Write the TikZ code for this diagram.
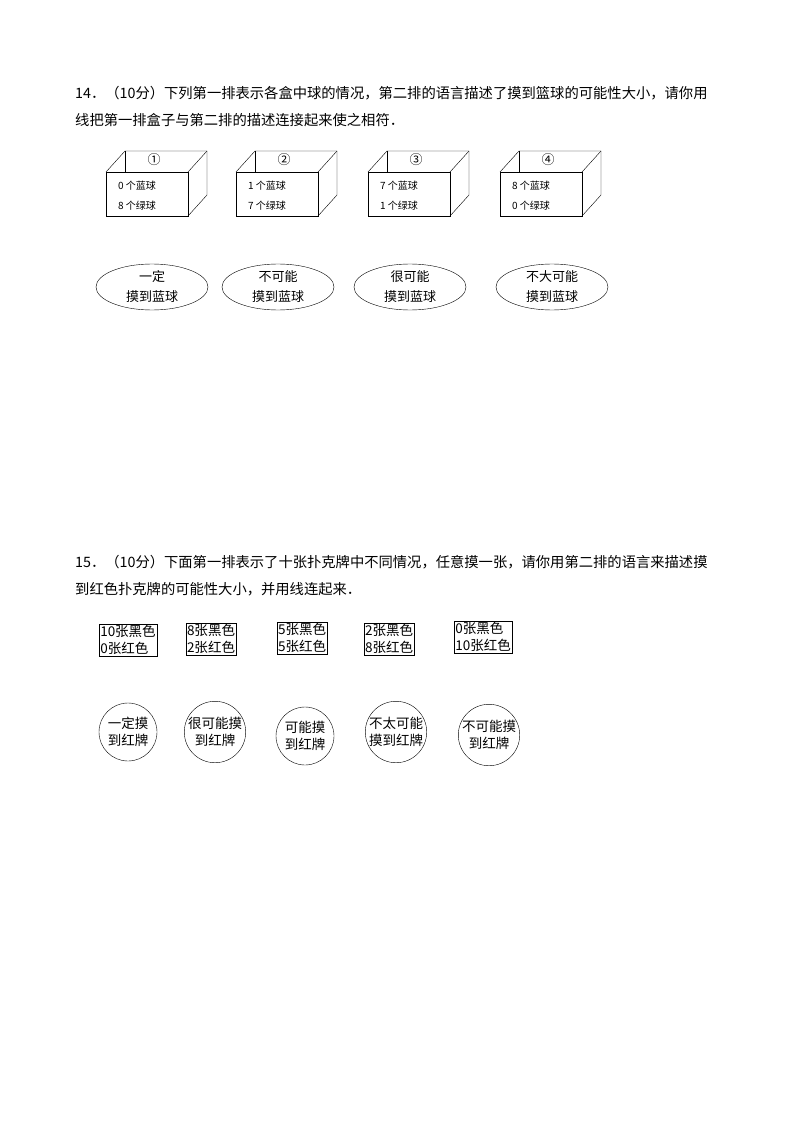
\documentclass[tikz,border=0pt]{standalone}
\usepackage{fontspec}
\setmainfont{Noto Sans CJK SC}
\usetikzlibrary{shapes.geometric}
\begin{document}
\begin{tikzpicture}[x=1pt,y=-1pt,
  txt/.style={font=\fontsize{14.3}{16}\selectfont,anchor=west,inner sep=0},
  small/.style={font=\fontsize{10}{20}\selectfont,align=left,inner sep=0},
  num/.style={font=\fontsize{13}{14}\selectfont,inner sep=0},
  ell/.style={draw,ellipse,minimum width=112pt,minimum height=46pt,font=\fontsize{13}{20}\selectfont,align=center,inner sep=0},
  card/.style={draw,font=\fontsize{13.5}{17}\selectfont,align=left,inner sep=1pt},
  circ/.style={draw,circle,minimum size=58pt,font=\fontsize{13.5}{17}\selectfont,align=center,inner sep=0}]
\useasboundingbox (0,0) rectangle (794,1123);
\node[txt] (t1) at (75,93) {14．（10分）下列第一排表示各盒中球的情况，第二排的语言描述了摸到篮球的可能性大小，请你用};
\node[txt] (t2) at (75,120) {线把第一排盒子与第二排的描述连接起来使之相符．};
\foreach \i/\x/\n/\a/\b in {1/106/①/0/8,2/236/②/1/7,3/368/③/7/1,4/500/④/8/0}{
  \draw (\x,172) rectangle (\x+82,216);
  \draw (\x,172) -- (\x+19,151) -- (\x+101,151) -- (\x+101,195) -- (\x+82,216);
  \draw (\x+82,172) -- (\x+101,151);
  \draw (\x+19,151) -- (\x+19,172);
  \node[num] (n\i) at (\x+48,160) {\n};
  \node[small,anchor=west] (b\i) at (\x+12,196) {\a\ 个蓝球\\\b\ 个绿球};
}
\node[ell] (e1) at (152,287) {一定\\摸到蓝球};
\node[ell] (e2) at (278,287) {不可能\\摸到蓝球};
\node[ell] (e3) at (410,287) {很可能\\摸到蓝球};
\node[ell] (e4) at (552,287) {不大可能\\摸到蓝球};
\node[txt] (t3) at (75,562) {15．（10分）下面第一排表示了十张扑克牌中不同情况，任意摸一张，请你用第二排的语言来描述摸};
\node[txt] (t4) at (75,589) {到红色扑克牌的可能性大小，并用线连起来．};
\node[card] (c1) at (128,640) {10张黑色\\0张红色};
\node[card] (c2) at (211,639) {8张黑色\\2张红色};
\node[card] (c3) at (302,638) {5张黑色\\5张红色};
\node[card] (c4) at (389,639) {2张黑色\\8张红色};
\node[card] (c5) at (483,637) {0张黑色\\10张红色};
\node[circ] (d1) at (128,732) {一定摸\\到红牌};
\node[circ] (d2) at (215,732) {很可能摸\\到红牌};
\node[circ] (d3) at (305,736) {可能摸\\到红牌};
\node[circ] (d4) at (396,732) {不太可能\\摸到红牌};
\node[circ] (d5) at (489,735) {不可能摸\\到红牌};
\end{tikzpicture}
\end{document}
